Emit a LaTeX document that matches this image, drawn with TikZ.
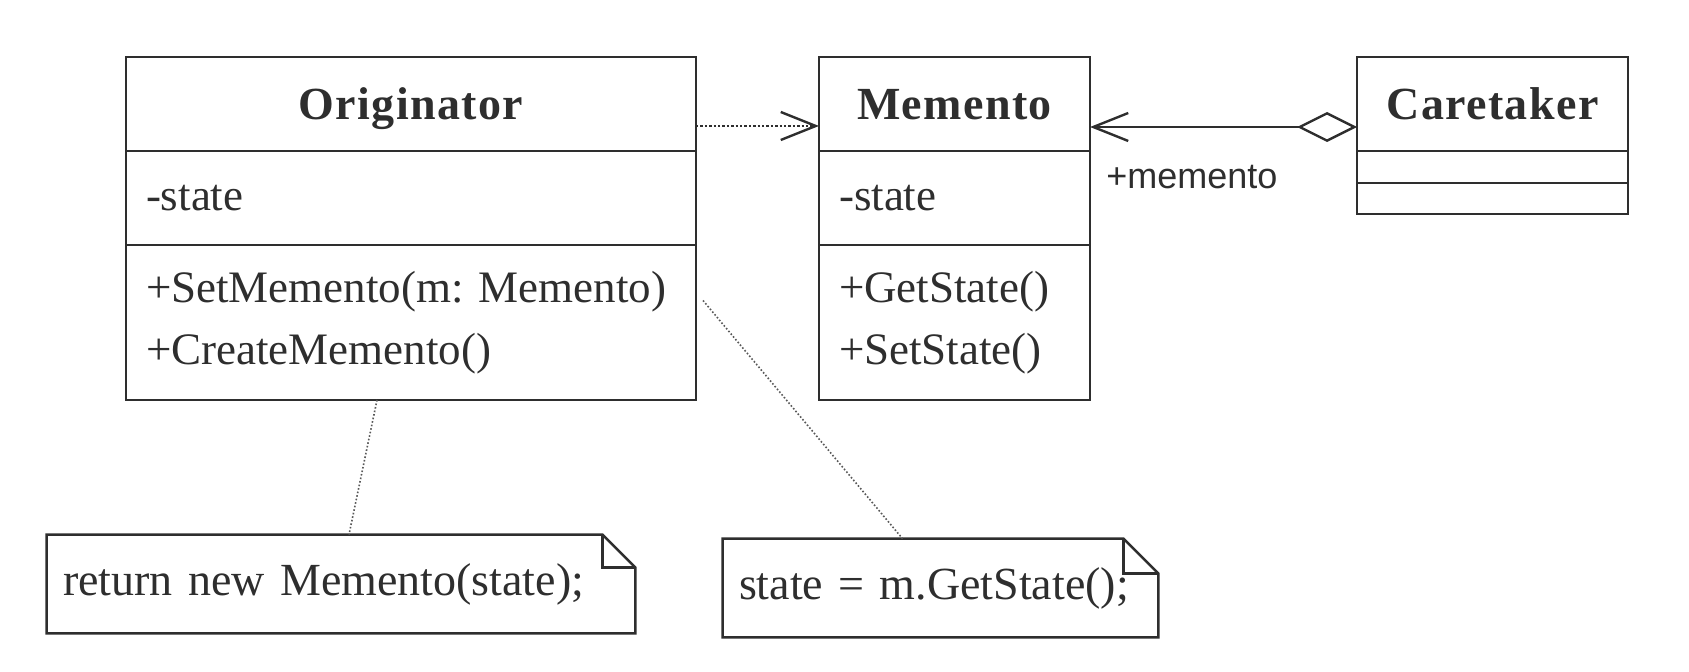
\documentclass[tikz,border=0pt]{standalone}
\usepackage{fontspec}
\setmainfont{Liberation Serif}
\newfontfamily\headfamily[LetterSpace=3]{Liberation Serif}
\newfontfamily\rolefamily{Liberation Sans}
\usetikzlibrary{arrows.meta,positioning}
\colorlet{ink}{black!82}
\frenchspacing

\newcommand{\notefold}[2]{%
  \draw[noteline] (#1.north west) -- ([xshift=-#2]#1.north east) -- ([yshift=-#2]#1.north east)
    -- (#1.south east) -- (#1.south west) -- cycle;
  \draw[noteline] ([xshift=-#2]#1.north east) |- ([yshift=-#2]#1.north east);
}

\begin{document}
\begin{tikzpicture}[x=0.5pt, y=-0.5pt,
    classhead/.style={
      draw=ink, line width=1.2pt, outer sep=0pt, inner xsep=10pt,
      minimum height=47pt, text height=18pt, text depth=2pt, align=center, text=ink,
      font=\fontsize{23}{28}\headfamily\bfseries
    },
    classbody/.style={
      draw=ink, line width=1.2pt, outer sep=0pt, inner xsep=10pt, inner ysep=2pt,
      align=left, text=ink, font=\fontsize{22.5}{31}\selectfont
    },
    note/.style={inner xsep=8pt, minimum height=49pt, align=left, text=ink,
      font=\fontsize{23}{28}\selectfont},
    noteline/.style={draw=ink, line width=1.2pt, line join=miter},
    notelink/.style={draw=ink!80, line width=0.8pt, densely dotted},
    rolelabel/.style={text=ink, inner sep=0pt, font=\fontsize{18}{20}\rolefamily},
    depend/.style={
      draw=ink, line width=1.2pt, densely dotted,
      -{Straight Barb[length=17.5pt,width=14pt]}
    },
    aggr/.style={
      draw=ink, line width=1.2pt,
      {Diamond[open,length=30pt,width=15pt]}-{Straight Barb[length=17.5pt,width=14pt]}
    }
  ]
  \useasboundingbox (0,0) rectangle (1689,672);

  % Originator
  \node[classhead, text width=265pt] (origTitle) at (411,104) {Originator};
  \node[classbody, text width=265pt, minimum height=47pt, below=0pt of origTitle] (origAttr) {-state};
  \node[classbody, text width=265pt, minimum height=77.5pt, below=0pt of origAttr] (origOps)
    {\mbox{+SetMemento(m: Memento)}\\+CreateMemento()};

  % Memento
  \node[classhead, text width=115.5pt, right=61.5pt of origTitle] (memTitle) {Memento};
  \node[classbody, text width=115.5pt, minimum height=47pt, below=0pt of memTitle] (memAttr) {-state};
  \node[classbody, text width=115.5pt, minimum height=77.5pt, below=0pt of memAttr] (memOps)
    {+GetState()\\+SetState()};

  % Caretaker
  \node[classhead, text width=115.5pt, right=133.5pt of memTitle] (careTitle) {Caretaker};
  \node[classbody, text width=115.5pt, minimum height=16pt, below=0pt of careTitle] (careAttr) {};
  \node[classbody, text width=115.5pt, minimum height=15.5pt, below=0pt of careAttr] (careOps) {};

  % notes
  \node[note, text width=278pt] (retNote) at (341,584) {return new Memento(state);};
  \node[note, text width=201.5pt] (getNote) at (940.5,588) {state = m.GetState();};
  \notefold{retNote}{16.5pt}
  \notefold{getNote}{17.5pt}

  \draw[depend] ([yshift=-11pt]origTitle.east) -- ([yshift=-11pt]memTitle.west);
  \draw[aggr] ([yshift=-11.5pt]careTitle.west) -- ([yshift=-11.5pt]memTitle.east);
  \node[rolelabel, anchor=west] (role) at (1106,177) {+memento};

  \draw[notelink] ([xshift=-17pt]origOps.south) -- ([xshift=4pt]retNote.north);
  \draw[notelink] ([xshift=3.5pt,yshift=11pt]origOps.east) -- ([xshift=-19pt]getNote.north);
\end{tikzpicture}
\end{document}
